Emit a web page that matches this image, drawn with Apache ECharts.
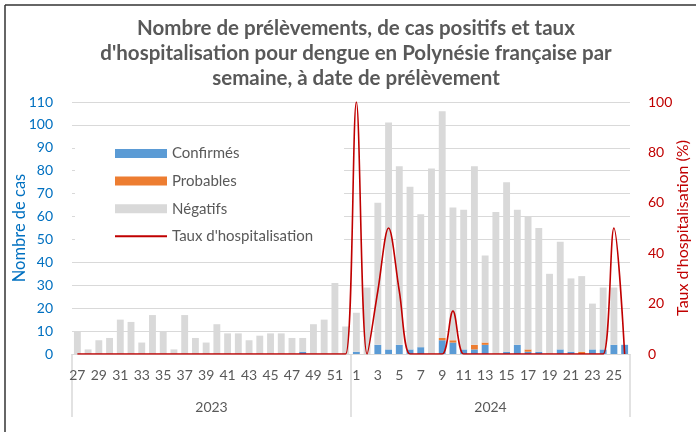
<!DOCTYPE html>
<html>
<head>
<meta charset="utf-8">
<style>
  html, body { margin: 0; padding: 0; background: #fff; }
  #chart { width: 696px; height: 432px; }
</style>
<script src="https://cdn.jsdelivr.net/npm/echarts@6/dist/echarts.min.js"></script>
</head>
<body>
<div id="chart"></div>
<script>
// semaines 27-52 de 2023 puis 1-26 de 2024
const weeks2023 = ['27','28','29','30','31','32','33','34','35','36','37','38','39','40','41','42','43','44','45','46','47','48','49','50','51','52']
const weeks2024 = ['1','2','3','4','5','6','7','8','9','10','11','12','13','14','15','16','17','18','19','20','21','22','23','24','25','26']
const years = ['2023', '2024']

const confirmes = [
  0,0,0,0,0,0,0,0,0,0,0,0,0,0,0,0,0,0,0,0,0,1,0,0,0,0,
  1,0,4,2,4,2,3,0,6,5,2,2,4,0,1,4,1,1,0,2,1,0,2,2,4,4
]
const probables = [
  0,0,0,0,0,0,0,0,0,0,0,0,0,0,0,0,0,0,0,0,0,0,0,0,0,0,
  0,0,0,0,0,0,0,0,1,1,0,2,1,0,0,0,1,0,0,0,0,1,0,0,0,0
]
const negatifs = [
  10,2,6,7,15,14,5,17,10,2,17,7,5,13,9,9,6,8,9,9,7,6,13,15,31,12,
  17,29,62,99,78,71,58,81,99,58,61,78,38,62,74,59,58,54,35,47,32,33,20,27,25,0
]
const tauxHospit = [
  0,0,0,0,0,0,0,0,0,0,0,0,0,0,0,0,0,0,0,0,0,0,0,0,0,0,
  100,0,25,50,25,0,0,0,0,17,0,0,0,0,0,0,0,0,0,0,0,0,0,0,50,0
]

const weeks = weeks2023.concat(weeks2024)
const font = 'Lato, "Open Sans", sans-serif'
const grey = '#595959'

const chart = echarts.init(document.getElementById('chart'))

chart.setOption({
  animation: false,
  textStyle: { fontFamily: font },
  title: {
    text: "Nombre de prélèvements, de cas positifs et taux\nd'hospitalisation pour dengue en Polynésie française par\nsemaine, à date de prélèvement",
    left: 351,
    top: 11,
    textAlign: 'center',
    textStyle: {
      fontFamily: font,
      fontSize: 20.5,
      fontWeight: 'bold',
      color: grey,
      lineHeight: 25
    }
  },
  graphic: [
    { type: 'line', shape: { x1: 5, y1: 5, x2: 696, y2: 5 }, style: { stroke: '#333', lineWidth: 1.5 } },
    { type: 'line', shape: { x1: 5, y1: 5, x2: 5, y2: 432 }, style: { stroke: '#333', lineWidth: 1.5 } }
  ],
  legend: {
    orient: 'vertical',
    left: 75,
    top: 138,
    backgroundColor: '#fff',
    padding: [8, 31, 7, 39],
    itemWidth: 52,
    itemHeight: 9,
    itemGap: 12.6,
    textStyle: { fontFamily: font, fontSize: 15, color: grey, lineHeight: 15 },
    data: [
      { name: 'Confirmés', icon: 'rect' },
      { name: 'Probables', icon: 'rect' },
      { name: 'Négatifs', icon: 'rect' },
      { name: "Taux d'hospitalisation", itemStyle: { opacity: 0 } }
    ]
  },
  grid: { left: 72, right: 66, top: 102, bottom: 78, outerBoundsMode: 'none' },
  xAxis: [
    {
      type: 'category',
      data: weeks,
      axisLine: { lineStyle: { color: '#d9d9d9', width: 1 } },
      axisTick: { show: false },
      axisLabel: { interval: 1, color: grey, fontSize: 14, margin: 14 }
    },
    {
      type: 'category',
      data: years,
      position: 'bottom',
      axisLine: { show: false },
      axisTick: { show: true, length: 63, lineStyle: { color: '#d9d9d9', width: 1.5 } },
      axisLabel: { color: grey, fontSize: 14, margin: 46 },
      splitLine: { show: false }
    }
  ],
  yAxis: [
    {
      type: 'value',
      min: 0,
      max: 110,
      interval: 10,
      name: 'Nombre de cas',
      nameLocation: 'middle',
      nameGap: 44,
      nameMoveOverlap: false,
      nameTextStyle: { color: '#0070C0', fontSize: 16.5 },
      axisLine: { show: false },
      axisTick: { show: false },
      axisLabel: { color: '#0070C0', fontSize: 14, margin: 19 },
      splitLine: { lineStyle: { color: '#d9d9d9', width: 1.2 } }
    },
    {
      type: 'value',
      min: 0,
      max: 100,
      interval: 20,
      name: "Taux d'hospitalisation (%)",
      nameLocation: 'middle',
      nameGap: 45,
      nameMoveOverlap: false,
      nameTextStyle: { color: '#C00000', fontSize: 16 },
      axisLine: { show: false },
      axisTick: { show: false },
      axisLabel: { color: '#C00000', fontSize: 14, margin: 18 },
      splitLine: { show: false }
    }
  ],
  series: [
    {
      name: 'Confirmés',
      type: 'bar',
      stack: 'cas',
      barCategoryGap: '36%',
      itemStyle: { color: '#5B9BD5' },
      data: confirmes
    },
    {
      name: 'Probables',
      type: 'bar',
      stack: 'cas',
      itemStyle: { color: '#ED7D31' },
      data: probables
    },
    {
      name: 'Négatifs',
      type: 'bar',
      stack: 'cas',
      itemStyle: { color: '#D9D9D9' },
      data: negatifs
    },
    {
      name: "Taux d'hospitalisation",
      type: 'line',
      yAxisIndex: 1,
      smooth: 0.35,
      symbol: 'none',
      lineStyle: { color: '#C00000', width: 1.6 },
      itemStyle: { color: '#C00000' },
      z: 5,
      data: tauxHospit
    }
  ]
})
</script>
</body>
</html>
